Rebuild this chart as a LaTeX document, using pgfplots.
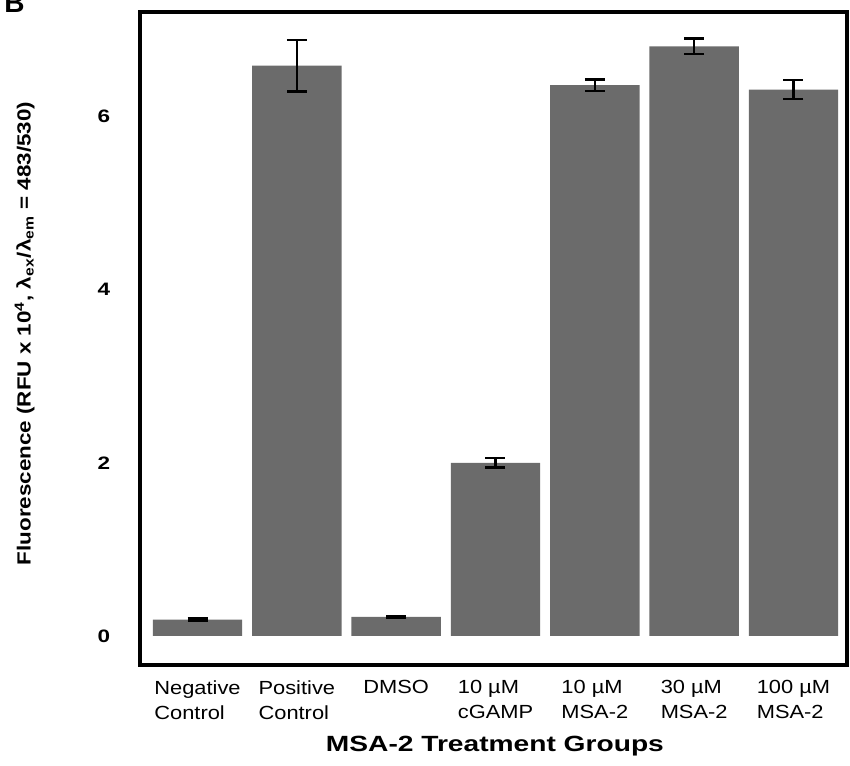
\documentclass[border=0pt]{standalone}
\usepackage{pgfplots}
\pgfplotsset{compat=1.18}
\usepackage{pgfplotstable}
\usepackage{fontspec}
\setmainfont{Liberation Sans}
\usetikzlibrary{calc}
\definecolor{bargray}{HTML}{6B6B6B}
\pgfplotstableread{
x y e
0 0.19 0.010
1 6.585 0.30
2 0.22 0.012
3 2.00 0.055
4 6.36 0.065
5 6.81 0.09
6 6.31 0.11
}\datatable
\begin{document}
\begin{tikzpicture}
\begin{axis}[
  name=ax,
  scale only axis,
  width=353.5pt, height=326.25pt,
  xmin=-0.579, xmax=6.539,
  ymin=-0.335, ymax=7.20,
  ybar, bar width=0.9,
  axis line style={line width=2pt, black},
  major tick length=0pt,
  ytick={0,2,4,6},
  xtick={0,1,2,3,4,5,6},
  xticklabels={Negative\\Control, Positive\\Control, DMSO, 10 µM\\cGAMP, 10 µM\\MSA-2, 30 µM\\MSA-2, 100 µM\\MSA-2},
  /pgf/number format/assume math mode=true,
  yticklabel style={font=\bfseries\fontsize{9}{10}\selectfont, anchor=center, inner sep=0pt, xshift=-18pt, xscale=1.25},
  xticklabel style={font=\fontsize{9.5}{12.5}\selectfont, align=left, anchor=north, inner sep=0pt, yshift=-7.5pt, xscale=1.15},
  xlabel={MSA-2 Treatment Groups},
  xlabel style={at={(axis description cs:0.502,0)}, anchor=north, inner sep=0pt, yshift=-35.5pt, xscale=1.28, font=\bfseries\fontsize{11}{13}\selectfont},
  ylabel={Fluorescence (RFU x 10\textsuperscript{4}, λ\textsubscript{ex}/λ\textsubscript{em} = 483/530)},
  ylabel style={at={(axis description cs:-0.163,0.508)}, anchor=center, inner sep=0pt, font=\bfseries\fontsize{11.2}{13}\selectfont, yscale=0.85},
  clip=false,
]
\addplot[fill=bargray, draw=none,
  error bars/.cd, y dir=both, y explicit,
  error bar style={line width=1.25pt, black},
  error mark options={rotate=90, line width=1.25pt, black, mark size=5pt}]
  table[x=x, y=y, y error=e]{\datatable};
\end{axis}
\node[anchor=base west, inner sep=0pt, font=\bfseries\fontsize{14}{14}\selectfont] at ($(ax.north west)+(-68pt,0pt)$) {B};
\pgfresetboundingbox
\path ($(ax.south west)+(-70pt,-50pt)$) rectangle ($(ax.north east)+(1.5pt,6.25pt)$);
\end{tikzpicture}
\end{document}
